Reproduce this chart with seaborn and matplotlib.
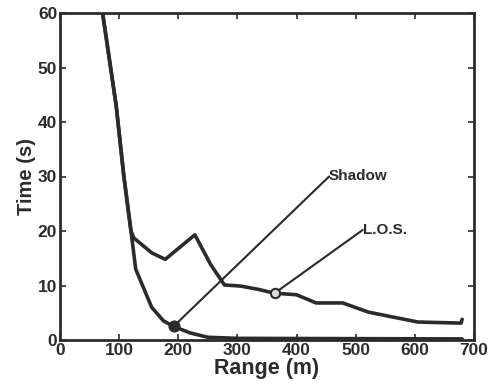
import pandas as pd
import matplotlib
matplotlib.use("Agg")
import matplotlib.pyplot as plt
import seaborn as sns

# --- data ---
shadow_range = [72, 95, 108, 120, 128, 155, 175, 192, 220, 250, 300, 680]
shadow_time = [60, 43, 30, 20, 13, 6, 3.5, 2.5, 1.3, 0.5, 0.3, 0.2]

los_range = [72, 95, 108, 120, 125, 155, 178, 228, 255, 278, 305, 335, 362,
             400, 433, 478, 522, 605, 678, 680]
los_time = [60, 43, 30, 20, 18.7, 16, 14.8, 19.3, 13.8, 10.1, 9.9, 9.3, 8.6,
            8.3, 6.8, 6.8, 5.1, 3.3, 3.1, 3.8]

# label anchors (point on curve -> text position)
shadow_mark = (192, 2.5)
shadow_text = (455, 30)
los_mark = (363, 8.6)
los_text = (512, 20.2)

x_ticks = [0, 100, 200, 300, 400, 500, 600, 700]
y_ticks = [0, 10, 20, 30, 40, 50, 60]

df = pd.concat([
    pd.DataFrame({"Range": shadow_range, "Time": shadow_time, "curve": "Shadow"}),
    pd.DataFrame({"Range": los_range, "Time": los_time, "curve": "L.O.S."}),
])

# --- plot ---
sns.set_style("ticks")
plt.rcParams["font.family"] = ["Liberation Sans", "DejaVu Sans"]
plt.rcParams["font.weight"] = "bold"
ink = "#2b2b2b"

fig = plt.figure(figsize=(4.92, 3.87), dpi=100)
ax = fig.add_axes([60 / 492, 47 / 387, 414 / 492, 327 / 387])

sns.lineplot(data=df, x="Range", y="Time", units="curve", estimator=None,
             sort=False, color=ink, linewidth=2.6, ax=ax)

# leader lines to the labels
for mark, txt, name in [(shadow_mark, shadow_text, "Shadow"), (los_mark, los_text, "L.O.S.")]:
    ax.plot([mark[0], txt[0]], [mark[1], txt[1]], color=ink, lw=1.5)
    ax.text(txt[0], txt[1], name, fontsize=11, color=ink, va="center", ha="left")

ax.scatter([shadow_mark[0]], [shadow_mark[1]], s=60, color=ink, zorder=5)
ax.scatter([los_mark[0]], [los_mark[1]], s=45, facecolor="#dddddd", edgecolor=ink,
           linewidth=1.5, zorder=5)

ax.set_xlim(0, 700)
ax.set_ylim(0, 60)
ax.set_xticks(x_ticks)
ax.set_yticks(y_ticks)
ax.tick_params(direction="in", top=True, right=True, length=4, width=1.2,
               labelsize=12.5, colors=ink, pad=2)
for s in ax.spines.values():
    s.set_linewidth(2)
    s.set_color(ink)

ax.set_xlabel("Range (m)", fontsize=15.5, fontweight="bold", color=ink, labelpad=0)
ax.set_ylabel("Time (s)", fontsize=14.5, fontweight="bold", color=ink, labelpad=1)

plt.savefig("out.png", dpi=100)
plt.close()
